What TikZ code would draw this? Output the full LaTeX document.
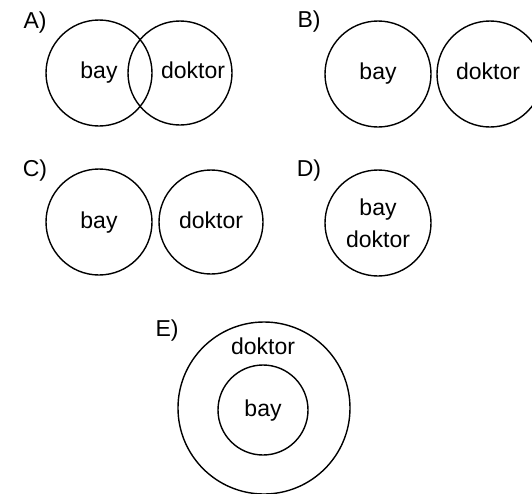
\documentclass[tikz,border=0pt]{standalone}
\usepackage{fontspec}
\setmainfont{Liberation Sans}
\usetikzlibrary{positioning}

\begin{document}
\begin{tikzpicture}[
  x=1pt, y=-1pt,
  every node/.style={font=\fontsize{23}{27}\selectfont},
  set/.style={circle, draw=black, line width=1.4pt, inner sep=0pt, minimum size=#1},
  set/.default=106pt,
  word/.style={inner sep=0pt, text height=17pt, text depth=5pt}
]
  \useasboundingbox (0,0) rectangle (532,493);
  \clip (0,0) rectangle (532,493);

  % A) overlapping
  \node[word] (labA) at (35,22) {A)};
  \node[set] (aBay) at (99,73) {};
  \node[set=104pt] (aDok) at (180,73) {};
  \node[word, yshift=1pt] (aBayTxt) at (aBay) {bay};
  \node[word, xshift=13pt, yshift=1pt] (aDokTxt) at (aDok) {doktor};

  % B) disjoint
  \node[word] (labB) at (309,21) {B)};
  \node[set] (bBay) at (378,74) {};
  \node[set] (bDok) at (490,74) {};
  \node[word, yshift=1pt] (bBayTxt) at (bBay) {bay};
  \node[word, xshift=-2pt, yshift=1pt] (bDokTxt) at (bDok) {doktor};

  % C) disjoint
  \node[word] (labC) at (35,170) {C)};
  \node[set] (cBay) at (99,222) {};
  \node[set=104pt] (cDok) at (211,222) {};
  \node[word] (cBayTxt) at (cBay) {bay};
  \node[word] (cDokTxt) at (cDok) {doktor};

  % D) same set
  \node[word] (labD) at (309,170) {D)};
  \node[set] (dSet) at (378,223) {};
  \node[word, yshift=14pt] (dBayTxt) at (dSet) {bay};
  \node[word, yshift=-18pt] (dDokTxt) at (dSet) {doktor};

  % E) subset
  \node[word] (labE) at (167,330) {E)};
  \node[set=172pt] (eDok) at (264,408) {};
  \node[set=90pt] (eBay) at (263,410) {};
  \node[word] (eBayTxt) at (eBay) {bay};
  \node[word, above=5pt of eBay] (eDokTxt) {doktor};
\end{tikzpicture}
\end{document}
